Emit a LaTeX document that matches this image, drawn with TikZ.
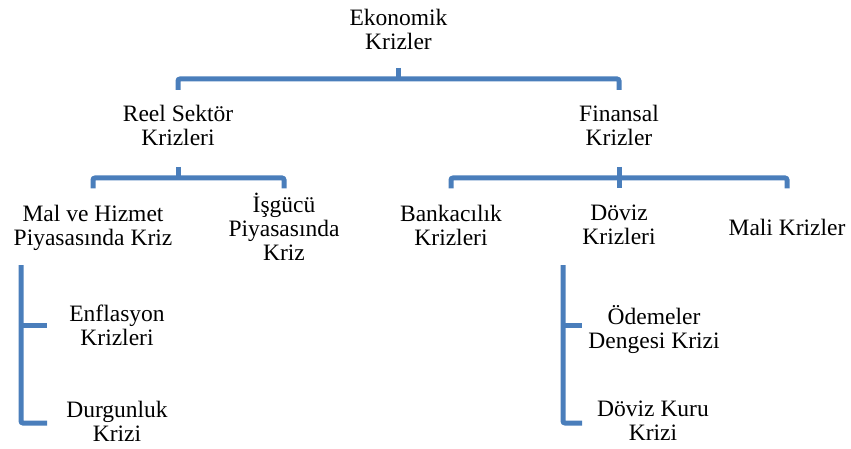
\documentclass[tikz,border=0pt]{standalone}
\usepackage{fontspec}
\setmainfont{Liberation Serif}
\definecolor{connblue}{RGB}{74,126,187}
\tikzset{
  x=1pt, y=-1pt,
  conn/.style={draw=connblue, line width=5pt, rounded corners=2pt},
  lbl/.style={anchor=north, inner sep=0pt, align=center,
    font=\fontsize{23.5}{24}\selectfont, execute at begin node=\strut},
}
\begin{document}
\begin{tikzpicture}
\useasboundingbox (0,0) rectangle (851,449);
% nodes (north = first baseline - 16.8)
\node[lbl] (eko)   at (398.5, 9.2)   {Ekonomik\\Krizler};
\node[lbl] (reel)  at (178, 105.2)   {Reel Sektör\\Krizleri};
\node[lbl] (fin)   at (619, 105.2)   {Finansal\\Krizler};
\node[lbl] (mal)   at (93, 205.2)    {Mal ve Hizmet\\Piyasasında Kriz};
\node[lbl] (isg)   at (284, 193.2)   {İşgücü\\Piyasasında\\Kriz};
\node[lbl] (bank)  at (451, 205.2)   {Bankacılık\\Krizleri};
\node[lbl] (doviz) at (619, 205.2)   {Döviz\\Krizleri};
\node[lbl] (mali)  at (787, 218.2)   {Mali Krizler};
\node[lbl] (enf)   at (117, 305.2)   {Enflasyon\\Krizleri};
\node[lbl] (durg)  at (117, 401.2)   {Durgunluk\\Krizi};
\node[lbl] (odem)  at (654, 305.2)   {Ödemeler\\Dengesi Krizi};
\node[lbl] (dkur)  at (653, 401.2)   {Döviz Kuru\\Krizi};
% level coordinates
\coordinate (t1) at (0,68);
\coordinate (b1) at (0,79);
\coordinate (d1) at (0,90);
\coordinate (t2) at (0,167);
\coordinate (b2) at (0,178);
\coordinate (d2) at (0,188.5);
\coordinate (t3) at (0,265);
\coordinate (k1) at (0,325);
\coordinate (k2) at (0,423);
\coordinate (lx) at (21,0);
\coordinate (lt) at (47,0);
\coordinate (rx) at (563,0);
\coordinate (rt) at (582,0);
% level 1
\draw[conn] (eko.south |- t1) -- (eko.south |- b1);
\draw[conn] (reel.north |- d1) |- (eko.south |- b1) -| (fin.north |- d1);
% level 2 left
\draw[conn] (reel.south |- t2) -- (reel.south |- b2);
\draw[conn] (mal.north |- d2) |- (reel.south |- b2) -| (isg.north |- d2);
% level 2 right
\draw[conn] (fin.south |- t2) -- (doviz.north |- d2);
\draw[conn] (bank.north |- d2) |- (fin.south |- b2) -| (mali.north |- d2);
% level 3 left
\draw[conn] (lx |- t3) |- (lt |- k2);
\draw[conn] (lx |- k1) -- (lt |- k1);
% level 3 right
\draw[conn] (rx |- t3) |- (rt |- k2);
\draw[conn] (rx |- k1) -- (rt |- k1);
\end{tikzpicture}
\end{document}
